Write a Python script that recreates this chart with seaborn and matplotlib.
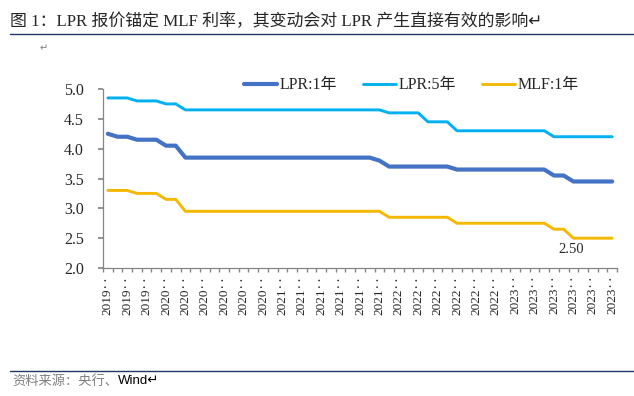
"""LPR vs MLF chart."""

import matplotlib
matplotlib.use("Agg")
import matplotlib.pyplot as plt
import matplotlib.lines as mlines
import seaborn as sns
import pandas as pd
import numpy as np

sns.set_theme(style="white")
SERIF = ["Liberation Serif", "Noto Sans CJK SC", "DejaVu Sans"]
plt.rcParams["font.family"] = SERIF

# monthly, 2019-08 .. 2023-12
months = pd.period_range("2019-08", "2023-12", freq="M").strftime("%Y-%m").tolist()

lpr_1y = [
    4.25, 4.20, 4.20, 4.15, 4.15,
    4.15, 4.05, 4.05, 3.85, 3.85, 3.85, 3.85, 3.85, 3.85, 3.85, 3.85, 3.85,
    3.85, 3.85, 3.85, 3.85, 3.85, 3.85, 3.85, 3.85, 3.85, 3.85, 3.85, 3.80,
    3.70, 3.70, 3.70, 3.70, 3.70, 3.70, 3.70, 3.65, 3.65, 3.65, 3.65, 3.65,
    3.65, 3.65, 3.65, 3.65, 3.65, 3.55, 3.55, 3.45, 3.45, 3.45, 3.45, 3.45,
]
lpr_5y = [
    4.85, 4.85, 4.85, 4.80, 4.80,
    4.80, 4.75, 4.75, 4.65, 4.65, 4.65, 4.65, 4.65, 4.65, 4.65, 4.65, 4.65,
    4.65, 4.65, 4.65, 4.65, 4.65, 4.65, 4.65, 4.65, 4.65, 4.65, 4.65, 4.65,
    4.60, 4.60, 4.60, 4.60, 4.45, 4.45, 4.45, 4.30, 4.30, 4.30, 4.30, 4.30,
    4.30, 4.30, 4.30, 4.30, 4.30, 4.20, 4.20, 4.20, 4.20, 4.20, 4.20, 4.20,
]
mlf_1y = [
    3.30, 3.30, 3.30, 3.25, 3.25,
    3.25, 3.15, 3.15, 2.95, 2.95, 2.95, 2.95, 2.95, 2.95, 2.95, 2.95, 2.95,
    2.95, 2.95, 2.95, 2.95, 2.95, 2.95, 2.95, 2.95, 2.95, 2.95, 2.95, 2.95,
    2.85, 2.85, 2.85, 2.85, 2.85, 2.85, 2.85, 2.75, 2.75, 2.75, 2.75, 2.75,
    2.75, 2.75, 2.75, 2.75, 2.75, 2.65, 2.65, 2.50, 2.50, 2.50, 2.50, 2.50,
]

series_names = ["LPR:1年", "LPR:5年", "MLF:1年"]
colors = ["#4472C4", "#00B0F0", "#F5B800"]
widths = [3.0, 2.1, 2.1]

df = pd.DataFrame({"month": months, series_names[0]: lpr_1y,
                   series_names[1]: lpr_5y, series_names[2]: mlf_1y})
df["pos"] = np.arange(len(df))

fig = plt.figure(figsize=(6.34, 3.96), dpi=100)
ax = fig.add_axes([103 / 634, 1 - 268 / 396, 514 / 634, 179 / 396])

for name, c, w in zip(series_names, colors, widths):
    sns.lineplot(data=df, x="pos", y=name, color=c, linewidth=w, ax=ax,
                 legend=False)

ax.set_xlim(-0.5, len(df) - 0.5)
ax.set_ylim(2.0, 5.0)
yt = np.arange(2.0, 5.01, 0.5)
ax.set_yticks(yt)
ax.set_yticklabels([f"{v:.1f}" for v in yt], fontsize=11.5)
ax.set_xlabel("")
ax.set_ylabel("")

major = np.arange(0, len(df), 2)
ax.set_xticks(major)
ax.set_xticklabels([months[i][:4] + "\u2025" for i in major], rotation=90,
                   fontsize=9.5, va="top")
ax.set_xticks(np.arange(-0.5, len(df), 1), minor=True)
ax.tick_params(axis="x", which="major", length=0, pad=5)
ax.tick_params(axis="x", which="minor", length=3, color="#868686",
               direction="out", bottom=True)
ax.tick_params(axis="y", length=3.6, color="#868686", direction="out", left=True,
               pad=10)

for s in ["top", "right"]:
    ax.spines[s].set_visible(False)
for s in ["left", "bottom"]:
    ax.spines[s].set_color("#868686")
    ax.spines[s].set_linewidth(0.9)

ax.annotate("2.50", xy=(48, 2.50), xytext=(-2, -11), textcoords="offset pixels",
            ha="center", va="center", fontsize=10.5)

handles = [mlines.Line2D([], [], color=c, linewidth=w)
           for c, w in zip(colors, widths)]
ax.legend(handles, series_names, ncol=3, frameon=False, loc="center",
          bbox_to_anchor=(0.60, 1.02), fontsize=11.5, handlelength=2.1,
          handletextpad=0.15, columnspacing=1.6)

# caption and source
fig.text(10 / 634, 1 - 22 / 396,
         "图 1：LPR 报价锚定 MLF 利率，其变动会对 LPR 产生直接有效的影响\u21b5",
         fontsize=12.2, va="center", ha="left", family=SERIF)
fig.add_artist(mlines.Line2D([10 / 634, 1.0], [1 - 34 / 396, 1 - 34 / 396],
                             color="#1F3864", linewidth=1.0))
fig.text(40 / 634, 1 - 48 / 396, "\u21b5", fontsize=7, color="#808080",
         va="center", family=["DejaVu Sans"])
fig.add_artist(mlines.Line2D([10 / 634, 1.0], [1 - 371 / 396, 1 - 371 / 396],
                             color="#1F3864", linewidth=1.0))
src = fig.text(12 / 634, 1 - 381 / 396, "资料来源：央行、", fontsize=9.5,
               color="#808080", va="center", family=["Noto Sans CJK SC"])
fig.canvas.draw()
bb = src.get_window_extent()
fig.text(bb.x1 / 634, 1 - 381 / 396, "Wind\u21b5", fontsize=9.5, color="black",
         va="center", family=["Liberation Sans", "DejaVu Sans"])

fig.savefig("out.png", dpi=100)
